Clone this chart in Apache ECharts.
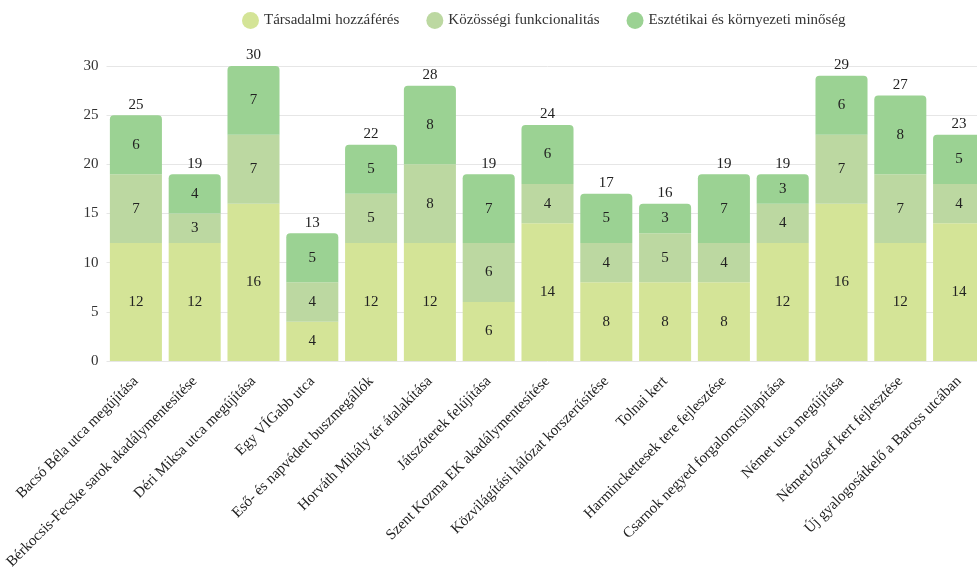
<!DOCTYPE html>
<html><head><meta charset="utf-8">
<script src="https://cdn.jsdelivr.net/npm/echarts@6/dist/echarts.min.js"></script>
<style>html,body{margin:0;padding:0;background:#fff;overflow:hidden;width:977px;height:567px;}#c{width:1000px;height:567px;}</style>
</head><body><div id="c"></div>
<script>
const categories = [
  "Bacsó Béla utca megújítása",
  "Bérkocsis-Fecske sarok akadálymentesítése",
  "Déri Miksa utca megújítása",
  "Egy VÍGabb utca",
  "Eső- és napvédett buszmegállók",
  "Horváth Mihály tér átalakítása",
  "Játszóterek felújítása",
  "Szent Kozma EK akadálymentesítése",
  "Közvilágítási hálózat korszerűsítése",
  "Tolnai kert",
  "Harminckettesek tere fejlesztése",
  "Csarnok negyed forgalomcsillapítása",
  "Német utca megújítása",
  "NémetJózsef kert fejlesztése",
  "Új gyalogosátkelő a Baross utcában"
];
const seriesNames = ["Társadalmi hozzáférés", "Közösségi funkcionalitás", "Esztétikai és környezeti minőség"];
const tarsadalmi = [12,12,16,4,12,12,6,14,8,8,8,12,16,12,14];
const kozossegi  = [7,3,7,4,5,8,6,4,4,5,4,4,7,7,4];
const esztetikai = [6,4,7,5,5,8,7,6,5,3,7,3,6,8,5];
const yTicks = [0,5,10,15,20,25,30];

const totals = categories.map((_, i) => tarsadalmi[i] + kozossegi[i] + esztetikai[i]);
const colors = ["#d4e497", "#bcd8a1", "#9bd293"];
const font = "'Liberation Serif', 'Times New Roman', serif";

const mk = (name, data, color, top) => ({
  name, type: 'bar', stack: 'total', data,
  barCategoryGap: '11.5%',
  itemStyle: { color, borderRadius: top ? [4,4,0,0] : 0 },
  label: { show: true, position: 'inside', color: '#222', fontFamily: font, fontSize: 15 },
  emphasis: { disabled: true }
});

const chart = echarts.init(document.getElementById('c'), null, { renderer: 'canvas', width: 1000, height: 567 });
chart.setOption({
  animation: false,
  textStyle: { fontFamily: font },
  legend: {
    top: 7, left: 237, icon: 'circle', itemWidth: 17, itemHeight: 17, itemGap: 27,
    textStyle: { fontFamily: font, fontSize: 15, color: '#333' },
    data: seriesNames
  },
  grid: { left: 106.5, top: 66, bottom: 206, width: 882, containLabel: false, outerBoundsMode: 'none' },
  xAxis: {
    type: 'category', data: categories,
    axisLine: { show: false }, axisTick: { show: false },
    axisLabel: { rotate: 45, interval: 0, margin: 18, fontFamily: font, fontSize: 15, color: '#222' }
  },
  yAxis: {
    type: 'value', min: yTicks[0], max: yTicks[yTicks.length-1], interval: 5,
    axisLine: { show: false }, axisTick: { show: false },
    axisLabel: { fontFamily: font, fontSize: 15, color: '#333', margin: 8 },
    splitLine: { lineStyle: { color: '#e6e6e6' } }
  },
  series: [
    mk(seriesNames[0], tarsadalmi, colors[0], false),
    mk(seriesNames[1], kozossegi, colors[1], false),
    mk(seriesNames[2], esztetikai, colors[2], true),
    {
      name: 'Összesen', type: 'bar', stack: 'total', data: totals.map(() => 0),
      itemStyle: { color: 'transparent' },
      label: { show: true, position: 'top', distance: 3, color: '#222', fontFamily: font, fontSize: 15,
        formatter: p => totals[p.dataIndex] },
      emphasis: { disabled: true }
    }
  ]
});
</script></body></html>
